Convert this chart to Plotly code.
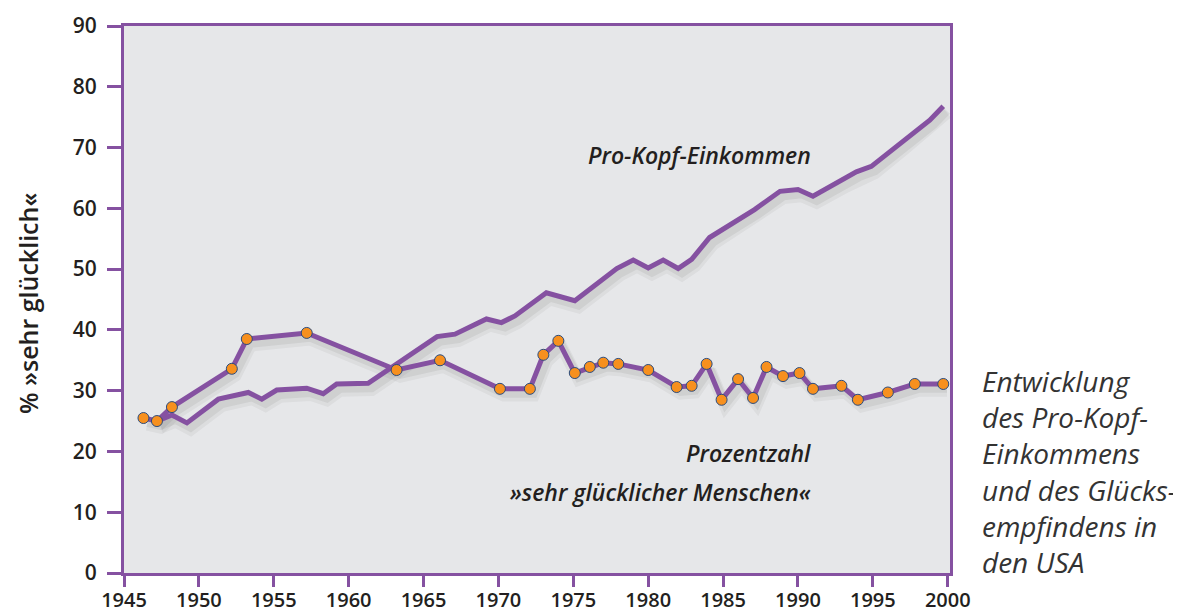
import plotly.graph_objects as go

# Data
happy_years = [1946.3, 1947.2, 1948.2, 1952.2, 1953.2, 1957.2, 1963.2, 1966.1,
               1970.1, 1972.1, 1973.0, 1974.0, 1975.1, 1976.1, 1977.0, 1978.0,
               1980.0, 1981.9, 1982.9, 1983.9, 1984.9, 1986.0, 1987.0, 1987.9,
               1989.0, 1990.1, 1991.0, 1992.9, 1994.0, 1996.0, 1997.8, 1999.7]
happy_pct = [25.5, 25.0, 27.3, 33.6, 38.5, 39.5, 33.4, 35.0,
             30.3, 30.3, 35.9, 38.2, 32.9, 33.9, 34.6, 34.4,
             33.4, 30.6, 30.8, 34.4, 28.5, 31.9, 28.8, 33.9,
             32.4, 32.9, 30.3, 30.8, 28.5, 29.7, 31.1, 31.1]

income_years = [1947.2, 1948.2, 1949.2, 1951.3, 1953.3, 1954.2, 1955.2, 1957.2,
                1958.3, 1959.2, 1961.3, 1965.9, 1967.1, 1969.2, 1970.2, 1971.1,
                1973.2, 1975.1, 1977.9, 1979.0, 1980.0, 1981.0, 1982.0, 1982.9,
                1984.1, 1987.1, 1988.8, 1990.0, 1991.0, 1993.0, 1993.9, 1994.9,
                1996.8, 1998.8, 1999.7]
income_idx = [25.0, 26.0, 24.7, 28.6, 29.7, 28.6, 30.1, 30.4,
              29.5, 31.1, 31.2, 38.9, 39.3, 41.8, 41.2, 42.3,
              46.1, 44.8, 50.1, 51.5, 50.2, 51.5, 50.1, 51.6,
              55.2, 59.8, 62.8, 63.1, 62.0, 64.7, 66.0, 66.9,
              70.7, 74.5, 76.8]

x_ticks = list(range(1945, 2001, 5))
y_ticks = list(range(0, 91, 10))

PURPLE = "#8551a1"
ORANGE = "#f7901e"
TEXT = "#231f20"
FONT = "Open Sans"

fig = go.Figure()

# soft drop shadows
for series_x, series_y in [(income_years, income_idx), (happy_years, happy_pct)]:
    for w, a, dy in [(12, 0.045, 1.1), (8, 0.06, 0.8)]:
        fig.add_trace(go.Scatter(
            x=[v + 0.25 for v in series_x], y=[v - dy for v in series_y],
            mode="lines", line=dict(color=f"rgba(0,0,0,{a})", width=w),
            hoverinfo="skip", showlegend=False))

fig.add_trace(go.Scatter(
    x=income_years, y=income_idx, mode="lines",
    line=dict(color=PURPLE, width=5), name="Pro-Kopf-Einkommen",
    showlegend=False))

fig.add_trace(go.Scatter(
    x=happy_years, y=happy_pct, mode="lines+markers",
    line=dict(color=PURPLE, width=5),
    marker=dict(size=11, color=ORANGE, line=dict(color="#2b4c7e", width=1)),
    name="sehr glücklich", showlegend=False))

axis_common = dict(
    showline=True, linecolor=PURPLE, linewidth=3, mirror=True,
    ticks="outside", tickcolor=PURPLE, tickwidth=3,
    showgrid=False, zeroline=False, automargin=False,
)

fig.update_xaxes(range=[1945, 2000.15], tickvals=x_ticks,
                 ticklen=11, ticklabelstandoff=-4,
                 tickfont=dict(family=FONT, size=20, color=TEXT, weight=600),
                 **axis_common)
fig.update_yaxes(range=[0, 90], tickvals=y_ticks, ticklen=14,
                 ticklabelstandoff=6,
                 tickfont=dict(family=FONT, size=21, color=TEXT, weight=600),
                 **axis_common)

OFF = 8  # page offset of the figure div
W, H = 1181, 612
# target plot-area box in page pixels
PX0, PX1, PY0, PY1 = 124, 950, 26, 573
L, T = PX0 - OFF, PY0 - OFF
R = W - (PX1 - OFF)
B = H - (PY1 - OFF)
pw, ph = PX1 - PX0, PY1 - PY0

def px_x(px):
    return (px - PX0) / pw

def px_y(py):
    return (PY1 - py) / ph

annotations = [
    dict(text="Pro-Kopf-Einkommen", x=px_x(813), y=px_y(155), xanchor="right",
         yanchor="middle", font=dict(family=FONT, size=23, color=TEXT, style="italic", weight=600)),
    dict(text="Prozentzahl", x=px_x(813), y=px_y(453), xanchor="right",
         yanchor="middle", font=dict(family=FONT, size=23, color=TEXT, style="italic", weight=600)),
    dict(text="»sehr glücklicher Menschen«", x=px_x(813), y=px_y(492), xanchor="right",
         yanchor="middle", font=dict(family=FONT, size=23, color=TEXT, style="italic", weight=600)),
    dict(text="% »sehr glücklich«", x=px_x(28), y=px_y(304), xanchor="center",
         yanchor="middle", textangle=-90,
         font=dict(family=FONT, size=25, color=TEXT, weight=600)),
]

side_lines = ["Entwicklung", "des Pro-Kopf-", "Einkommens",
              "und des Glücks-", "empfindens in", "den USA"]
for i, line in enumerate(side_lines):
    annotations.append(dict(
        text=line, x=px_x(980), y=px_y(381 + i * 36.2), xanchor="left",
        yanchor="middle",
        font=dict(family=FONT, size=28, color="#333333", style="italic", weight=400)))

for a in annotations:
    a.update(xref="paper", yref="paper", showarrow=False)

fig.update_layout(
    width=W, height=H,
    margin=dict(l=L, r=R, t=T, b=B, autoexpand=False),
    paper_bgcolor="white", plot_bgcolor="#e6e7e9",
    annotations=annotations,
    font=dict(family=FONT, color=TEXT),
)

fig.write_html("out.html")
